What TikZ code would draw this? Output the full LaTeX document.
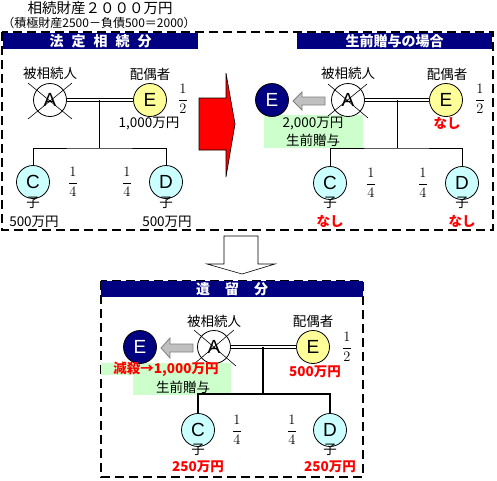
\documentclass[tikz,border=0pt]{standalone}
\usepackage{fontspec}
\newfontfamily\jp{Noto Sans CJK JP}
\newfontfamily\arialf{Liberation Sans}
\definecolor{navy}{HTML}{000080}
\definecolor{pyellow}{HTML}{FFFF99}
\definecolor{pcyan}{HTML}{CCFFFF}
\definecolor{pgreen}{HTML}{CCFFCC}
\definecolor{agray}{HTML}{C0C0C0}
\definecolor{adark}{HTML}{808080}
\begin{document}
\begin{tikzpicture}[x=1pt,y=-1pt,
  person/.style={circle,draw,line width=0.8pt,minimum size=33pt,inner sep=0pt,font=\arialf\fontsize{19}{19}\selectfont},
  spouse/.style={person,fill=pyellow},
  child/.style={person,fill=pcyan},
  donee/.style={person,fill=navy,text=white},
  dec/.style={person,fill=white},
  lbl/.style={font=\jp\fontsize{13.5}{15}\selectfont,inner sep=0pt},
  redl/.style={font=\jp\bfseries\fontsize{13.5}{15}\selectfont,text=red,inner sep=0pt},
  fr/.style={font=\fontsize{15}{17}\selectfont,inner sep=0pt},
  hdr/.style={fill=navy,text=white,font=\jp\bfseries\fontsize{14}{16}\selectfont,inner sep=0pt,minimum height=16pt,anchor=north west},
  panel/.style={draw,line width=2pt,dash pattern=on 9pt off 5pt},
  link/.style={line width=0.8pt},
  dlink/.style={double,double distance=2pt,line width=0.8pt},
  tlink/.style={line width=2pt},
  xline/.style={line width=0.6pt},
  garrow/.style={fill=agray,draw=adark,line width=0.8pt}
]
\useasboundingbox (0,0) rectangle (497,480);

% title
\node[lbl,font=\jp\fontsize{14.5}{16}\selectfont] (t1) at (100,8) {相続財産２０００万円};
\node[lbl,font=\jp\fontsize{12}{13}\selectfont] (t2) at (99,23) {（積極財産2500－負債500＝2000）};

% top panel frame
\draw[panel] (2,32) rectangle (493,230);
\node[hdr,minimum width=195pt] (h1) at (3,33) {法\hspace{8pt}定\hspace{8pt}相\hspace{8pt}続\hspace{8pt}分};
\node[hdr,minimum width=195pt] (h2) at (297,33) {生前贈与の場合};

% ===== left panel =====
\node[dec] (A1) at (50,100) {A};
\draw[xline] (28,83) -- (72,119) (72,83) -- (28,119);
\node[spouse] (E1) at (150,100) {E};
\node[child] (C1) at (33,182) {C};
\node[child] (D1) at (166,182) {D};
\node[lbl] (la1) at (50,73) {被相続人};
\node[lbl] (le1) at (150,74) {配偶者};
\node[fr] (f1) at (183,99) {$\displaystyle\frac{1}{2}$};
\node[lbl] (m1) at (149,124) {1,000万円};
\node[fr] (f2) at (73,182) {$\displaystyle\frac{1}{4}$};
\node[fr] (f3) at (127,182) {$\displaystyle\frac{1}{4}$};
\node[lbl] (k1) at (33,203) {子};
\node[lbl] (k2) at (166,203) {子};
\node[lbl] (m2) at (34,222) {500万円};
\node[lbl] (m3) at (167,222) {500万円};
\coordinate (J1) at (99,100);
\coordinate (K1) at (99,148);
\draw[dlink] (A1) -- (E1);
\draw[link] (J1) -- (K1);
\draw[link] (C1) |- (K1) -| (D1);

% red arrow
\draw[fill=red,line width=0.6pt] (199,98) -- (226,98) -- (226,73) -- (235,124) -- (226,177) -- (226,150) -- (199,150) -- cycle;

% ===== right panel =====
\fill[pgreen] (264,115) rectangle (363,148);
\node[donee] (E2n) at (272,100) {E};
\draw[garrow] (293,101) -- (302,92) -- (302,97) -- (325,97) -- (325,105) -- (302,105) -- (302,110) -- cycle;
\node[dec] (A2) at (348,100) {A};
\draw[xline] (328,84) -- (368,118) (367,84) -- (328,116);
\node[spouse] (E2) at (446,100) {E};
\node[child] (C2) at (330,183) {C};
\node[child] (D2) at (462,183) {D};
\node[lbl] (la2) at (348,73) {被相続人};
\node[lbl] (le2) at (447,74) {配偶者};
\node[fr] (f4) at (480,99) {$\displaystyle\frac{1}{2}$};
\node[lbl] (g1) at (313,124) {2,000万円};
\node[lbl] (g2) at (313,140) {生前贈与};
\node[redl] (n1) at (447,123) {なし};
\node[fr] (f5) at (371,183) {$\displaystyle\frac{1}{4}$};
\node[fr] (f6) at (423,183) {$\displaystyle\frac{1}{4}$};
\node[lbl] (k3) at (330,203) {子};
\node[lbl] (k4) at (462,203) {子};
\node[redl] (n2) at (330,221) {なし};
\node[redl] (n3) at (462,221) {なし};
\coordinate (J2) at (397,100);
\coordinate (K2) at (397,148);
\draw[dlink] (A2) -- (E2);
\draw[link] (J2) -- (K2);
\draw[link] (C2) |- (K2) -| (D2);

% down arrow
\draw[fill=white,line width=0.6pt] (224,236) -- (258,236) -- (258,264) -- (275,264) -- (242,274) -- (207,264) -- (224,264) -- cycle;

% ===== bottom panel =====
\draw[panel] (101,281) rectangle (363,477);
\node[hdr,minimum width=262pt] (h3) at (101,281) {遺\hspace{15pt}留\hspace{15pt}分};
\fill[pgreen] (101,363) rectangle (231,375);
\fill[pgreen] (133,363) rectangle (231,395);
\node[donee] (E3n) at (140,347) {E};
\draw[garrow] (161,348) -- (170,338) -- (170,344) -- (193,344) -- (193,352) -- (170,352) -- (170,358) -- cycle;
\node[dec] (A3) at (214,347) {A};
\draw[xline] (194,330) -- (236,366) (234,330) -- (194,364);
\node[spouse] (E4) at (313,347) {E};
\node[child] (C3) at (198,430) {C};
\node[child] (D3) at (330,430) {D};
\node[lbl] (la3) at (214,321) {被相続人};
\node[lbl] (le3) at (313,321) {配偶者};
\node[fr] (f7) at (347,347) {$\displaystyle\frac{1}{2}$};
\node[redl] (r1) at (166,369) {減殺→1,000万円};
\node[lbl] (g3) at (183,387) {生前贈与};
\node[redl] (r2) at (315,372) {500万円};
\node[fr] (f8) at (237,430) {$\displaystyle\frac{1}{4}$};
\node[fr] (f9) at (292,430) {$\displaystyle\frac{1}{4}$};
\node[lbl] (k5) at (198,450) {子};
\node[lbl] (k6) at (330,450) {子};
\node[redl] (r3) at (198,467) {250万円};
\node[redl] (r4) at (330,467) {250万円};
\coordinate (J3) at (263,347);
\coordinate (K3) at (263,394);
\draw[dlink] (A3) -- (E4);
\draw[tlink] (J3) -- (K3);
\draw[tlink] (C3) |- (K3) -| (D3);
\end{tikzpicture}
\end{document}
